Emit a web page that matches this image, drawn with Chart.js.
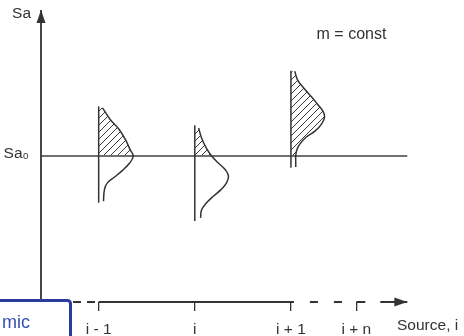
<!DOCTYPE html>
<html>
<head>
<meta charset="utf-8">
<script src="https://cdn.jsdelivr.net/npm/chart.js@4.4.1/dist/chart.umd.min.js"></script>
<style>
  html, body { margin: 0; padding: 0; background: #fff; }
  canvas { display: block; }
</style>
</head>
<body>
<canvas id="saChart" width="464" height="336"></canvas>
<script>
// Sa distribution at each source, m = const

const sourceLabels = ['i - 1', 'i', 'i + 1', 'i + n'];
const sourcePos = [1, 2, 3, 3.68];
const saZero = 5;
const saMax = 10;
const xMin = 0.4;
const xMax = 4.74;
const axisEnd = 4.21;

// Sa levels along each sideways curve, and how far the curve sits from its source line
const saLevels1 = [6.65, 6.25, 5.9, 5.55, 5.2, 5.0, 4.75, 4.5, 4.28, 4.08, 3.85, 3.45];
const spread1 = [0.04, 0.12, 0.215, 0.28, 0.33, 0.36, 0.32, 0.245, 0.165, 0.09, 0.06, 0.05];
const saLevels2 = [5.96, 5.62, 5.27, 5.0, 4.76, 4.52, 4.32, 4.08, 3.84, 3.63, 3.39, 3.15, 2.88];
const spread2 = [0.04, 0.07, 0.12, 0.175, 0.245, 0.32, 0.35, 0.33, 0.27, 0.195, 0.12, 0.07, 0.06];
const saLevels3 = [7.9, 7.6, 7.3, 7.0, 6.8, 6.55, 6.34, 6.1, 5.85, 5.65, 5.4, 5.2, 5.0, 4.8, 4.62];
const spread3 = [0.04, 0.07, 0.14, 0.22, 0.27, 0.33, 0.35, 0.32, 0.25, 0.16, 0.09, 0.06, 0.05, 0.05, 0.05];

// vertical extent of each source line
const lineTop = [6.7, 6.05, 7.92];
const lineBottom = [3.4, 2.77, 4.6];

const ink = '#333333';
const fontFamily = "'Liberation Sans', Arial, Helvetica, sans-serif";

const canvas = document.getElementById('saChart');
const ctx2d = canvas.getContext('2d');

function makeHatch() {
    const tile = document.createElement('canvas');
    tile.width = 7;
    tile.height = 7;
    const g = tile.getContext('2d');
    g.strokeStyle = '#3a3a3a';
    g.lineWidth = 1;
    g.beginPath();
    g.moveTo(-1, 8); g.lineTo(8, -1);
    g.moveTo(-1, 1); g.lineTo(1, -1);
    g.moveTo(6, 8); g.lineTo(8, 6);
    g.stroke();
    return ctx2d.createPattern(tile, 'repeat');
}

function makeArrow() {
    // tip sits at the centre of the image so the point lands on the axis end
    const c = document.createElement('canvas');
    c.width = 28;
    c.height = 10;
    const g = c.getContext('2d');
    g.fillStyle = ink;
    g.beginPath();
    g.moveTo(1, 0.5);
    g.lineTo(14, 5);
    g.lineTo(1, 9.5);
    g.closePath();
    g.fill();
    return c;
}

const hatch = makeHatch();
const arrow = makeArrow();

function curvePoints(pos, sa, spread) {
    return sa.map((s, k) => ({ x: pos + spread[k], y: s }));
}

const curveSets = [
    [sourcePos[0], saLevels1, spread1],
    [sourcePos[1], saLevels2, spread2],
    [sourcePos[2], saLevels3, spread3]
];

const axisDash = [[8, 6], [], [8, 16], [9, 15, 40]];
const axisDashOffset = [10, 0, 5, 0];

const datasets = [];

// y axis with arrow
datasets.push({
    indexAxis: 'y',
    data: [{ x: xMin, y: 0 }, { x: xMin, y: saMax }],
    borderColor: ink,
    borderWidth: 1.8,
    pointRadius: [0, 1],
    pointStyle: arrow,
    pointRotation: -90,
    fill: false,
    clip: false
});

// x axis: dashed before i-1, solid to i+1, dashed on to the arrow
const xAxisStops = [xMin, sourcePos[0], sourcePos[2], sourcePos[3], axisEnd];
datasets.push({
    data: xAxisStops.map(v => ({ x: v, y: 0 })),
    borderColor: ink,
    borderWidth: 1.8,
    pointRadius: ctx => ctx.dataIndex === xAxisStops.length - 1 ? 1 : 0,
    pointStyle: arrow,
    fill: false,
    clip: false,
    segment: {
        borderDash: ctx => axisDash[ctx.p0DataIndex],
        borderDashOffset: ctx => axisDashOffset[ctx.p0DataIndex]
    }
});

// curve outlines
curveSets.forEach(([pos, sa, spread]) => {
    datasets.push({
        indexAxis: 'y',
        data: curvePoints(pos, sa, spread),
        borderColor: ink,
        borderWidth: 1.5,
        pointRadius: 0,
        tension: 0.4,
        fill: false,
        clip: false
    });
});

// source lines
curveSets.forEach(([pos], k) => {
    datasets.push({
        indexAxis: 'y',
        data: [{ x: pos, y: lineBottom[k] }, { x: pos, y: lineTop[k] }],
        borderColor: ink,
        borderWidth: 1.5,
        pointRadius: 0,
        fill: false,
        clip: false
    });
});

// Sa0 level
datasets.push({
    data: [{ x: xMin, y: saZero }, { x: axisEnd, y: saZero }],
    borderColor: '#707070',
    borderWidth: 2,
    pointRadius: 0,
    fill: false,
    clip: false
});

// hatched part above Sa0
curveSets.forEach(([pos, sa, spread]) => {
    datasets.push({
        indexAxis: 'y',
        data: curvePoints(pos, sa, spread).filter(p => p.y >= saZero),
        borderWidth: 0,
        backgroundColor: hatch,
        pointRadius: 0,
        tension: 0.4,
        fill: { value: pos },
        clip: false
    });
});

const overlayText = {
    id: 'overlayText',
    afterDraw(chart) {
        const { ctx, chartArea } = chart;
        const x = chart.scales.x;
        const y = chart.scales.y;
        ctx.save();
        ctx.fillStyle = ink;
        ctx.font = '15.5px ' + fontFamily;
        ctx.textBaseline = 'middle';
        ctx.textAlign = 'right';
        ctx.fillText('Sa', chartArea.left - 10, y.getPixelForValue(saMax) + 4);
        ctx.textAlign = 'center';
        ctx.font = '16px ' + fontFamily;
        ctx.fillText('m = const', x.getPixelForValue(3.63), y.getPixelForValue(9.15));

        // cut-off caption box in the lower left corner
        ctx.beginPath();
        ctx.moveTo(-5, 300.5);
        ctx.lineTo(67, 300.5);
        ctx.arcTo(70.5, 300.5, 70.5, 304, 3);
        ctx.lineTo(70.5, 345);
        ctx.lineTo(-5, 345);
        ctx.closePath();
        ctx.fillStyle = '#ffffff';
        ctx.fill();
        ctx.lineWidth = 3;
        ctx.strokeStyle = '#2a3d9c';
        ctx.stroke();
        ctx.fillStyle = '#3450b4';
        ctx.font = '18px ' + fontFamily;
        ctx.textAlign = 'left';
        ctx.textBaseline = 'alphabetic';
        ctx.fillText('mic', 2, 328);
        ctx.restore();
    }
};

new Chart(canvas, {
    type: 'line',
    data: { datasets: datasets },
    options: {
        responsive: false,
        animation: false,
        layout: { padding: { top: 10, left: 0, right: 0, bottom: 0 } },
        plugins: {
            legend: { display: false },
            tooltip: { enabled: false }
        },
        scales: {
            x: {
                type: 'linear',
                min: xMin,
                max: xMax,
                afterBuildTicks: scale => {
                    scale.ticks = sourcePos.map(v => ({ value: v }));
                },
                afterFit: scale => {
                    scale.height = 34;
                    scale.paddingLeft = 0;
                    scale.paddingRight = 0;
                },
                ticks: {
                    autoSkip: false,
                    maxRotation: 0,
                    padding: 9,
                    color: ink,
                    font: { family: fontFamily, size: 15.5 },
                    callback: (value, index) => sourceLabels[index]
                },
                grid: {
                    display: true,
                    drawOnChartArea: false,
                    drawTicks: true,
                    tickLength: 9,
                    color: ink,
                    lineWidth: 1.3
                },
                border: { display: false },
                title: {
                    display: true,
                    text: 'Source, i',
                    align: 'end',
                    color: ink,
                    font: { family: fontFamily, size: 15.5 },
                    padding: { top: 0, bottom: 1 }
                }
            },
            y: {
                type: 'linear',
                min: 0,
                max: saMax,
                afterBuildTicks: scale => {
                    scale.ticks = [{ value: saZero }];
                },
                afterFit: scale => {
                    scale.width = 41;
                    scale.paddingTop = 0;
                    scale.paddingBottom = 0;
                },
                ticks: {
                    padding: 4,
                    labelOffset: -2,
                    color: ink,
                    font: { family: fontFamily, size: 15.5 },
                    callback: () => 'Sa₀'
                },
                grid: { display: false },
                border: { display: false }
            }
        }
    },
    plugins: [overlayText]
});
</script>
</body>
</html>
